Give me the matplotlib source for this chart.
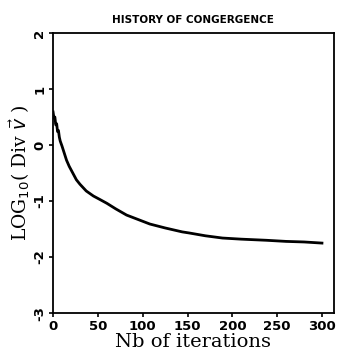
import numpy as np
import matplotlib.pyplot as plt

# valeurs (iteration, log10 div v)
iters = [0, 1, 2, 3, 4, 5, 6, 7, 8, 10, 12, 15, 18, 22, 26, 30, 37, 45, 52, 60,
         70, 82, 95, 108, 125, 144, 152, 170, 189, 210, 238, 260, 280, 300]
logdiv = [0.59, 0.48, 0.50, 0.36, 0.38, 0.24, 0.26, 0.14, 0.07, -0.02, -0.12,
          -0.27, -0.38, -0.50, -0.62, -0.70, -0.82, -0.91, -0.97, -1.04,
          -1.14, -1.25, -1.33, -1.41, -1.48, -1.55, -1.57, -1.62, -1.66,
          -1.68, -1.70, -1.72, -1.73, -1.75]

xticks = [0, 50, 100, 150, 200, 250, 300]
yticks = [-3, -2, -1, 0, 1, 2]

fig = plt.figure(figsize=(3.38, 3.62), dpi=100)
ax = fig.add_axes([0.157, 0.135, 0.83, 0.774])

ax.plot(iters, logdiv, 'k-', lw=2.0)

ax.set_xlim(0, 313)
ax.set_ylim(-3, 2)
ax.set_xticks(xticks)
ax.set_yticks(yticks)
ax.set_xticklabels([str(t) for t in xticks], fontsize=9.5, fontweight='bold')
ax.set_yticklabels([str(t) for t in yticks], fontsize=9.5, fontweight='bold',
                   rotation=90, va='center')
ax.tick_params(direction='out', length=3, width=1.2, pad=2)
for s in ax.spines.values():
    s.set_linewidth(1.3)

ax.set_title('HISTORY OF CONGERGENCE', fontsize=7.5, fontweight='bold', pad=7)
ax.set_xlabel('Nb of iterations', family='DejaVu Serif', fontsize=14, labelpad=0)
ax.set_ylabel(r'LOG$_{10}$( Div $\vec{v}$ )', family='DejaVu Serif', fontsize=13.5,
              labelpad=1)

fig.savefig('out.png', dpi=100)
